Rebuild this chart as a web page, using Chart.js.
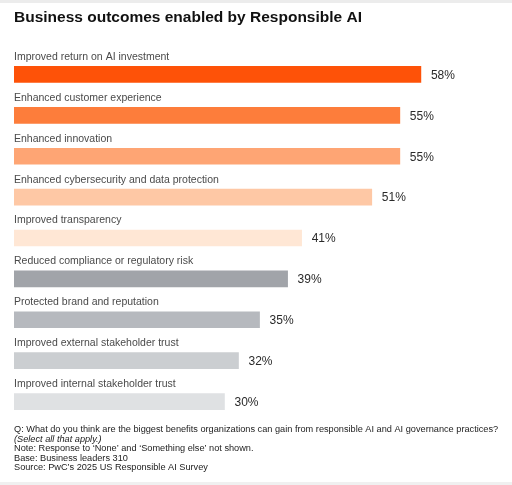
<!DOCTYPE html>
<html>
<head>
<meta charset="utf-8">
<script src="https://cdn.jsdelivr.net/npm/chart.js@4.4.1/dist/chart.umd.min.js"></script>
<style>
    html, body { margin: 0; padding: 0; background: #fff; }
    #wrap { width: 512px; height: 485px; position: relative; border-top: 3px solid #ececec; border-bottom: 3px solid #f0f0f0; box-sizing: border-box; }
</style>
</head>
<body>
<div id="wrap"><canvas id="outcomes-chart" width="512" height="479"></canvas></div>
<script>
const categories = [
    'Improved return on AI investment',
    'Enhanced customer experience',
    'Enhanced innovation',
    'Enhanced cybersecurity and data protection',
    'Improved transparency',
    'Reduced compliance or regulatory risk',
    'Protected brand and reputation',
    'Improved external stakeholder trust',
    'Improved internal stakeholder trust'
];
const values = [58, 55, 55, 51, 41, 39, 35, 32, 30];
const barColors = ['#fe5208', '#fd7d3b', '#fea574', '#fec8a5', '#ffe7d5', '#a1a4a9', '#b6b9be', '#cbced1', '#dfe1e3'];

const titleText = 'Business outcomes enabled by Responsible AI';
const footnotes = [
    { text: 'Q: What do you think are the biggest benefits organizations can gain from responsible AI and AI governance practices?', italic: false },
    { text: '(Select all that apply.)', italic: true },
    { text: 'Note: Response to \u2018None\u2019 and \u2018Something else\u2019 not shown.', italic: false },
    { text: 'Base: Business leaders 310', italic: false },
    { text: 'Source: PwC\u2019s 2025 US Responsible AI Survey', italic: false }
];

const font = '"Liberation Sans", Arial, sans-serif';

const labelsPlugin = {
    id: 'labels',
    afterDatasetsDraw(chart) {
        const ctx = chart.ctx;
        const meta = chart.getDatasetMeta(0);
        ctx.save();
        ctx.textBaseline = 'middle';
        meta.data.forEach((bar, i) => {
            // category name above the bar
            ctx.font = '10.5px ' + font;
            ctx.fillStyle = '#4a4a4a';
            ctx.textAlign = 'left';
            ctx.fillText(categories[i], chart.chartArea.left, bar.y - 17.5);
            // value right of the bar
            ctx.font = '12px ' + font;
            ctx.fillStyle = '#2a2a2a';
            ctx.fillText(values[i] + '%', bar.x + 10, bar.y + 1);
        });

        ctx.font = 'bold 15.5px ' + font;
        ctx.fillStyle = '#111';
        ctx.textBaseline = 'alphabetic';
        ctx.fillText(titleText, 14, 19);

        ctx.fillStyle = '#222';
        footnotes.forEach((line, i) => {
            ctx.font = (line.italic ? 'italic ' : '') + '9.2px ' + font;
            ctx.fillText(line.text, 14, 429 + i * 9.5);
        });
        ctx.restore();
    }
};

new Chart(document.getElementById('outcomes-chart').getContext('2d'), {
    type: 'bar',
    data: {
        labels: categories,
        datasets: [
            {
                data: values,
                backgroundColor: barColors,
                barThickness: 16,
            },
        ],
    },
    options: {
        indexAxis: 'y',
        responsive: false,
        animation: false,
        layout: { padding: { top: 51, bottom: 60, left: 14, right: 42 } },
        plugins: { legend: { display: false }, tooltip: { enabled: false } },
        scales: {
            x: { display: false, min: 0, max: 65 },
            y: { display: false },
        },
    },
    plugins: [labelsPlugin],
});
</script>
</body>
</html>
